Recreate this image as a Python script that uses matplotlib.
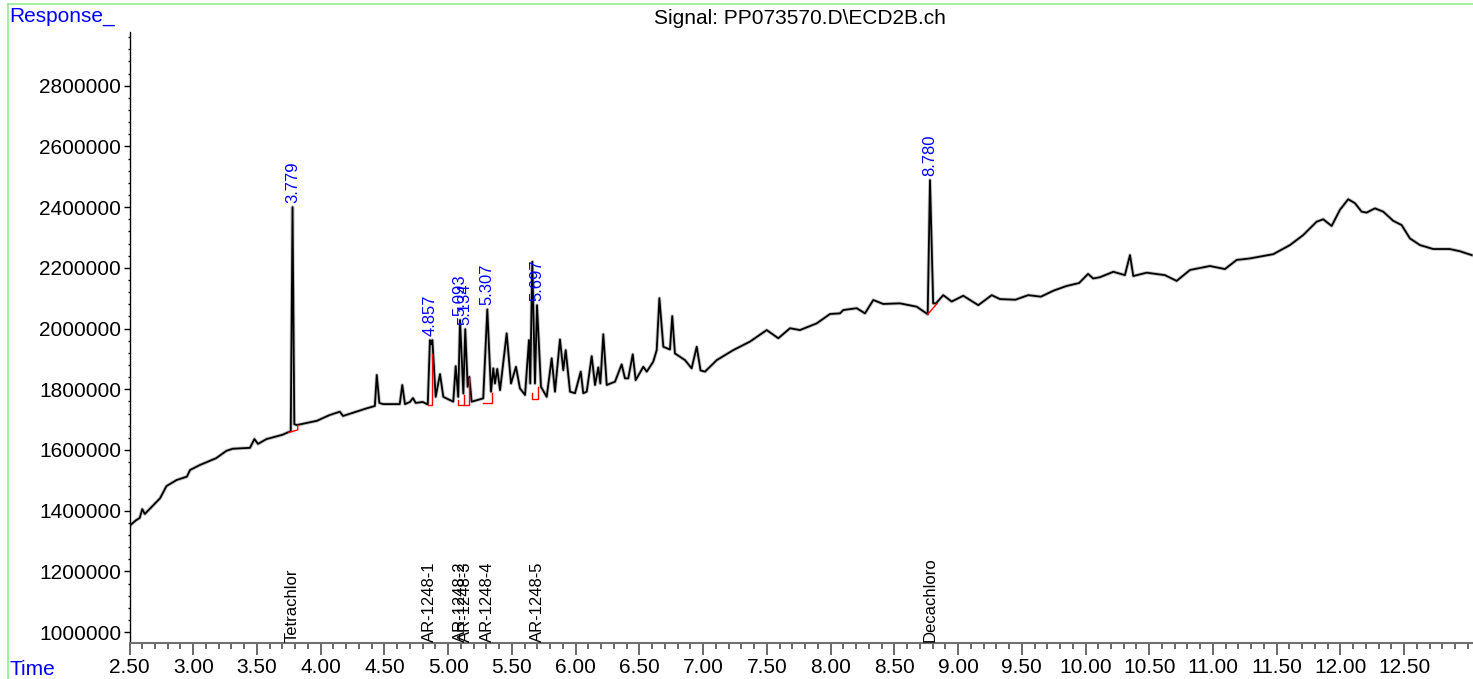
import numpy as np
import matplotlib.pyplot as plt
from matplotlib.lines import Line2D
from matplotlib.ticker import FixedLocator, FuncFormatter

plt.rcParams['font.family'] = ['Liberation Sans', 'DejaVu Sans']

# chromatogram trace (min, response)
time = [2.50, 2.55, 2.58, 2.60, 2.62, 2.68, 2.74, 2.79, 2.87, 2.95, 2.975, 3.05,
        3.18, 3.26, 3.31, 3.445, 3.48, 3.508, 3.576, 3.70, 3.765, 3.779, 3.793,
        3.812, 3.97, 4.07, 4.15, 4.175, 4.36, 4.425, 4.44, 4.46, 4.49, 4.62, 4.64,
        4.661, 4.70, 4.724, 4.745, 4.80, 4.84, 4.857, 4.866, 4.876, 4.902, 4.936,
        4.962, 5.04, 5.059, 5.079, 5.093, 5.119, 5.134, 5.153, 5.166, 5.184, 5.275,
        5.307, 5.336, 5.354, 5.367, 5.385, 5.407, 5.459, 5.493, 5.532, 5.563, 5.603,
        5.634, 5.644, 5.660, 5.681, 5.697, 5.728, 5.773, 5.812, 5.838, 5.877, 5.903,
        5.922, 5.956, 5.995, 6.040, 6.060, 6.087, 6.126, 6.152, 6.178, 6.194, 6.217,
        6.244, 6.309, 6.361, 6.387, 6.413, 6.448, 6.471, 6.531, 6.558, 6.609, 6.636,
        6.657, 6.688, 6.740, 6.758, 6.779, 6.858, 6.910, 6.950, 6.980, 7.015, 7.107,
        7.237, 7.368, 7.499, 7.590, 7.682, 7.760, 7.891, 7.996, 8.074, 8.100, 8.205,
        8.270, 8.335, 8.413, 8.544, 8.676, 8.762, 8.780, 8.805, 8.827, 8.884, 8.950,
        9.041, 9.159, 9.264, 9.329, 9.45, 9.55, 9.65, 9.75, 9.85, 9.95, 10.02, 10.06,
        10.113, 10.218, 10.309, 10.349, 10.375, 10.480, 10.623, 10.715, 10.820,
        10.976, 11.094, 11.186, 11.290, 11.473, 11.604, 11.708, 11.813, 11.865,
        11.931, 11.996, 12.061, 12.114, 12.166, 12.205, 12.271, 12.336, 12.414,
        12.480, 12.545, 12.624, 12.728, 12.857, 12.935, 13.03]
response = [1350000, 1368000, 1376000, 1405000, 1389000, 1415000, 1441000, 1481000,
            1501000, 1512000, 1534000, 1550000, 1573000, 1597000, 1604000, 1607000,
            1636000, 1620000, 1636000, 1650000, 1662000, 2400000, 1685000, 1682000,
            1696000, 1715000, 1726000, 1712000, 1737000, 1745000, 1847000, 1755000,
            1751000, 1751000, 1814000, 1751000, 1758000, 1771000, 1755000, 1758000,
            1750000, 1962000, 1948000, 1962000, 1775000, 1850000, 1775000, 1759000,
            1876000, 1775000, 2028000, 1786000, 1998000, 1808000, 1841000, 1759000,
            1770000, 2063000, 1792000, 1869000, 1819000, 1867000, 1797000, 1984000,
            1819000, 1874000, 1803000, 1781000, 1962000, 1819000, 2220000, 1819000,
            2077000, 1808000, 1775000, 1902000, 1792000, 1964000, 1863000, 1929000,
            1792000, 1787000, 1858000, 1787000, 1792000, 1909000, 1814000, 1872000,
            1819000, 1981000, 1814000, 1825000, 1882000, 1836000, 1836000, 1915000,
            1830000, 1874000, 1858000, 1891000, 1929000, 2100000, 1940000, 1931000,
            2041000, 1918000, 1896000, 1869000, 1940000, 1862000, 1858000, 1896000,
            1929000, 1957000, 1995000, 1968000, 2001000, 1995000, 2017000, 2048000,
            2050000, 2061000, 2067000, 2050000, 2094000, 2081000, 2083000, 2072000,
            2047000, 2489000, 2083000, 2083000, 2110000, 2089000, 2108000, 2077000,
            2110000, 2097000, 2095000, 2110000, 2105000, 2125000, 2140000, 2150000,
            2180000, 2165000, 2169000, 2187000, 2176000, 2242000, 2173000, 2184000,
            2176000, 2157000, 2193000, 2206000, 2196000, 2226000, 2231000, 2245000,
            2275000, 2308000, 2352000, 2360000, 2338000, 2391000, 2426000, 2413000,
            2385000, 2382000, 2396000, 2385000, 2355000, 2341000, 2297000, 2275000,
            2262000, 2262000, 2255000, 2242000]

# integrated peaks
peak_rt = [3.779, 4.857, 5.093, 5.134, 5.307, 5.697, 8.780]
peak_names = ['Tetrachlor', 'AR-1248-1', 'AR-1248-2', 'AR-1248-3', 'AR-1248-4',
              'AR-1248-5', 'Decachloro']

# red integration baselines / drop lines
base_t = [[3.751, 3.820, 3.820],
          [4.839, 4.871, 4.871],
          [5.075, 5.075, 5.166, 5.166],
          [5.122, 5.122],
          [5.275, 5.341, 5.341],
          [5.660, 5.660, 5.707, 5.707],
          [8.762, 8.837]]
base_v = [[1658000, 1666000, 1680000],
          [1748000, 1748000, 1916000],
          [1765000, 1748000, 1748000, 1836000],
          [1748000, 1781000],
          [1756000, 1756000, 1787000],
          [1787000, 1768000, 1768000, 1808000],
          [2047000, 2083000]]

x_major = np.arange(2.5, 12.51, 0.5)
x_minor = np.arange(2.5, 13.05, 0.1)
y_major = np.arange(1000000, 2800001, 200000)
y_minor = np.arange(960000, 2980001, 40000)

fig = plt.figure(figsize=(14.73, 6.79), dpi=100)
ax = fig.add_axes([129.5 / 1473, 35.7 / 679, 1343.5 / 1473, 611.6 / 679])

ax.plot(time, response, color='#c4c4c4', lw=2.6, solid_joinstyle='round')
ax.plot(time, response, color='black', lw=1.3)
for bt, bv in zip(base_t, base_v):
    ax.plot(bt, bv, color='red', lw=1.0)

heights = np.interp(peak_rt, time, response)
for rt, h in zip(peak_rt, heights):
    ax.annotate('%.3f' % rt, (rt, h), xytext=(0, 3), textcoords='offset points',
                rotation=90, ha='center', va='bottom', color='#0000ff', fontsize=12)

for rt, name in zip(peak_rt, peak_names):
    ax.annotate(name, (rt, 963000), xytext=(0, 1), textcoords='offset points',
                rotation=90, ha='center', va='bottom', color='black', fontsize=12)

ax.set_xlim(2.5, 13.04)
ax.set_ylim(963000, 2978000)
ax.xaxis.set_major_locator(FixedLocator(x_major))
ax.xaxis.set_minor_locator(FixedLocator(x_minor))
ax.yaxis.set_major_locator(FixedLocator(y_major))
ax.yaxis.set_minor_locator(FixedLocator(y_minor))
ax.xaxis.set_major_formatter(FuncFormatter(lambda v, p: '%.2f' % v))
ax.yaxis.set_major_formatter(FuncFormatter(lambda v, p: '%d' % v))

for s in ['top', 'right']:
    ax.spines[s].set_visible(False)
ax.spines['bottom'].set_color('#707070')
ax.spines['bottom'].set_linewidth(1.5)
ax.spines['left'].set_linewidth(1.0)
ax.tick_params(axis='x', which='major', length=8.5, width=1.2, color='#505050',
               labelsize=15, pad=2)
ax.tick_params(axis='x', which='minor', length=4, width=1.2, color='#505050')
ax.tick_params(axis='y', which='major', length=4, width=1, labelsize=15, pad=2)
ax.tick_params(axis='y', which='minor', length=1.5, width=1)

fig.text(9 / 1473, 1 - 7 / 679, 'Response_', color='#0000ff', fontsize=15,
         ha='left', va='top')
fig.text(9 / 1473, 1 - 660 / 679, 'Time', color='#0000ff', fontsize=15,
         ha='left', va='top')
fig.text(800 / 1473, 1 - 9 / 679, 'Signal: PP073570.D\\ECD2B.ch', color='black',
         fontsize=15, ha='center', va='top')

# green frame
fig.add_artist(Line2D([8 / 1473, 1], [1 - 4 / 679, 1 - 4 / 679],
                      transform=fig.transFigure, color='#90ee90', lw=1.2))
fig.add_artist(Line2D([8 / 1473, 8 / 1473], [0, 1 - 4 / 679],
                      transform=fig.transFigure, color='#90ee90', lw=1.2))

fig.savefig('out.png', dpi=100)
